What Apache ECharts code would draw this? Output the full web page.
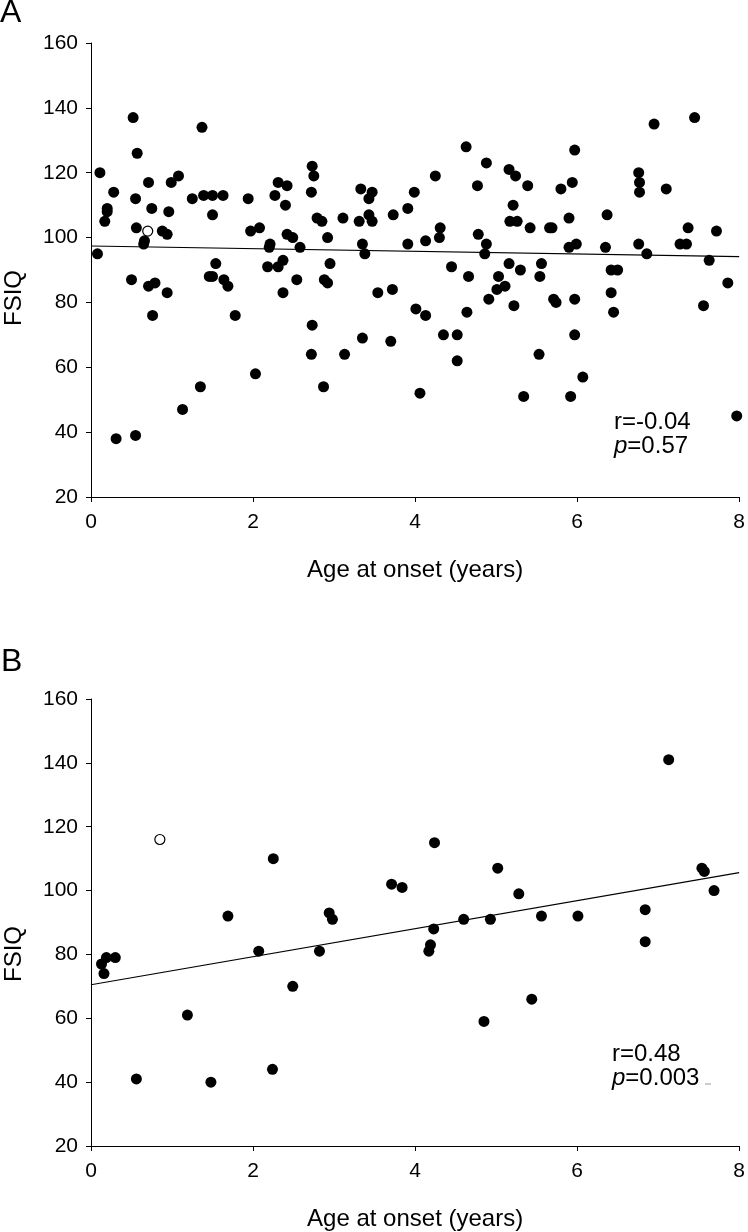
<!DOCTYPE html>
<html>
<head>
<meta charset="utf-8">
<script src="https://cdn.jsdelivr.net/npm/echarts@6/dist/echarts.min.js"></script>
<style>
html,body{margin:0;padding:0;background:#fff;}
#chart{width:748px;height:1232px;}
</style>
</head>
<body>
<div id="chart"></div>
<script>
// Panel A: age at onset (years) vs FSIQ
const pointsA = [
[0.08,95],[0.11,120],[0.17,105],[0.2,109],[0.2,108],[0.28,114],[0.31,38],[0.52,137],[0.5,87],[0.55,112],
[0.57,126],[0.56,103],[0.55,39],[0.66,99],[0.65,98],[0.71,117],[0.75,109],[0.71,85],[0.79,86],[0.76,76],
[0.88,102],[0.94,101],[0.96,108],[0.99,117],[1.08,119],[0.94,83],[1.13,47],[1.25,112],[1.37,134],[1.35,54],
[1.39,113],[1.50,113],[1.63,113],[1.50,107],[1.54,92],[1.46,88],[1.50,88],[1.64,87],[1.69,85],[1.78,76],
[1.94,112],[1.97,102],[2.08,103],[2.03,58],[2.21,98],[2.2,97],[2.18,91],[2.31,91],[2.37,93],[2.27,113],
[2.31,117],[2.42,116],[2.40,110],[2.42,101],[2.49,100],[2.58,97],[2.37,83],[2.54,87],[2.73,122],[2.75,119],
[2.72,114],[2.79,106],[2.85,105],[2.92,100],[2.95,92],[2.88,87],[2.92,86],[2.73,73],[2.72,64],[2.87,54],
[3.13,64],[3.11,106],[3.33,115],[3.47,114],[3.43,112],[3.31,105],[3.43,107],[3.47,105],[3.35,98],[3.38,95],
[3.35,69],[3.54,83],[3.72,84],[3.70,68],[3.73,107],[3.91,109],[3.91,98],
[3.99,114],[4.01,78],[4.13,76],[4.06,52],[4.13,99],[4.25,119],[4.31,103],[4.30,100],[4.35,70],[4.52,70],
[4.52,62],[4.45,91],[4.64,77],[4.66,88],[4.63,128],[4.77,116],[4.78,101],[4.88,123],[4.88,98],[4.86,95],
[4.91,81],[5.03,88],[5.01,84],[5.11,85],[5.16,92],[5.16,121],[5.24,119],[5.21,110],[5.17,105],[5.26,105],
[5.22,79],[5.30,90],[5.39,116],[5.42,103],[5.34,51],[5.53,64],[5.54,88],[5.56,92],[5.66,103],[5.69,103],
[5.71,81],[5.74,80],[5.80,115],[5.94,117],[5.97,127],[5.90,106],[5.90,97],[5.99,98],[5.92,51],[5.97,81],
[5.97,70],[6.07,57],[6.37,107],[6.35,97],[6.42,90],[6.50,90],[6.42,83],[6.45,77],[6.76,120],[6.77,117],
[6.77,114],[6.76,98],[6.86,95],[6.95,135],[7.10,115],[7.27,98],[7.35,98],[7.37,103],[7.45,137],[7.56,79],
[7.63,93],[7.72,102],[7.86,86],[7.97,45]
];
const hollowA = [[0.70,102]];
const fitA = [[0,97.4],[8,94.1]];
const statA = ['r=-0.04', '0.57'];

// Panel B
const pointsB = [
[0.13,77],[0.16,74],[0.19,79],[0.30,79],[0.56,41],[1.19,61],[1.48,40],[1.69,92],[2.07,81],[2.25,110],
[2.24,44],[2.49,70],[2.82,81],[2.94,93],[2.98,91],[3.71,102],[3.84,101],[4.24,115],[4.19,83],[4.17,81],
[4.23,88],[4.60,91],[4.93,91],[5.02,107],[4.85,59],[5.28,99],[5.56,92],[5.44,66],[6.01,92],[6.84,94],
[6.84,84],[7.13,141],[7.54,107],[7.57,106],[7.69,100]
];
const hollowB = [[0.85,116]];
const fitB = [[0,70.5],[8,105.6]];
const statB = ['r=0.48', '0.003'];

const xTicks = {min: 0, max: 8, interval: 2};
const yTicks = {min: 20, max: 160, interval: 20};
const panelLabels = ['A', 'B'];
const xTitle = 'Age at onset (years)';
const yTitle = 'FSIQ';

const FONT = '"Liberation Sans", Arial, Helvetica, sans-serif';

function xAxis(i) {
  return {
    type: 'value', gridIndex: i, min: xTicks.min, max: xTicks.max, interval: xTicks.interval,
    name: xTitle, nameLocation: 'middle', nameGap: 61,
    nameTextStyle: {color: '#000', fontSize: 24, fontFamily: FONT},
    axisLine: {show: true, onZero: false, lineStyle: {color: '#000', width: 1}},
    axisTick: {show: true, inside: false, length: 5, lineStyle: {color: '#000', width: 1}},
    axisLabel: {color: '#000', fontSize: 21, fontFamily: FONT, margin: 15},
    splitLine: {show: false}
  };
}
function yAxis(i) {
  return {
    type: 'value', gridIndex: i, min: yTicks.min, max: yTicks.max, interval: yTicks.interval,
    axisLine: {show: true, onZero: false, lineStyle: {color: '#000', width: 1}},
    axisTick: {show: true, inside: false, length: 5, lineStyle: {color: '#000', width: 1}},
    axisLabel: {color: '#000', fontSize: 21, fontFamily: FONT, margin: 13},
    splitLine: {show: false}
  };
}
function dots(i, data) {
  return {type: 'scatter', xAxisIndex: i, yAxisIndex: i, data: data, symbol: 'circle', symbolSize: 11,
    itemStyle: {color: '#000', opacity: 1}, silent: true, z: 3};
}
function hollow(i, data) {
  return {type: 'scatter', xAxisIndex: i, yAxisIndex: i, data: data, symbol: 'circle', symbolSize: 10,
    itemStyle: {color: '#fff', borderColor: '#000', borderWidth: 1.2, opacity: 1}, silent: true, z: 4};
}
function fit(i, data) {
  return {type: 'line', xAxisIndex: i, yAxisIndex: i, data: data, showSymbol: false, symbol: 'none',
    lineStyle: {color: '#000', width: 1.2}, silent: true, z: 2, animation: false};
}
function stat(x, y, s) {
  return [
    {type: 'text', left: x, top: y, style: {text: s[0], fill: '#000', font: '24px ' + FONT}},
    {type: 'text', left: x, top: y + 24, style: {
      text: '{i|p}=' + s[1], fill: '#000', font: '24px ' + FONT,
      rich: {i: {fontStyle: 'italic', fontSize: 24, fontFamily: FONT, fill: '#000'}}}}
  ];
}
function ytitle(cy) {
  return {type: 'text', x: 14, y: cy, rotation: Math.PI / 2,
    style: {text: yTitle, fill: '#000', font: '24px ' + FONT, align: 'center', verticalAlign: 'middle'}};
}

const chart = echarts.init(document.getElementById('chart'), null, {renderer: 'canvas'});
chart.setOption({
  backgroundColor: '#fff',
  animation: false,
  grid: [
    {left: 91, right: 7, top: 43, height: 454, containLabel: false},
    {left: 91, right: 7, top: 699, height: 454, containLabel: false}
  ],
  xAxis: [xAxis(0), xAxis(1)],
  yAxis: [yAxis(0), yAxis(1)],
  series: [dots(0, pointsA), hollow(0, hollowA), fit(0, fitA),
           dots(1, pointsB), hollow(1, hollowB), fit(1, fitB)],
  graphic: [
    {type: 'text', left: 0, top: -3, style: {text: panelLabels[0], fill: '#000', font: '32px ' + FONT}},
    {type: 'text', left: 1, top: 646, style: {text: panelLabels[1], fill: '#000', font: '32px ' + FONT}},
    ytitle(298),
    ytitle(954),
    ...stat(614, 410, statA),
    ...stat(612, 1042, statB),
    {type: 'line', shape: {x1: 705, y1: 1084, x2: 711, y2: 1084}, style: {stroke: '#999', lineWidth: 1}}
  ]
});
</script>
</body>
</html>
